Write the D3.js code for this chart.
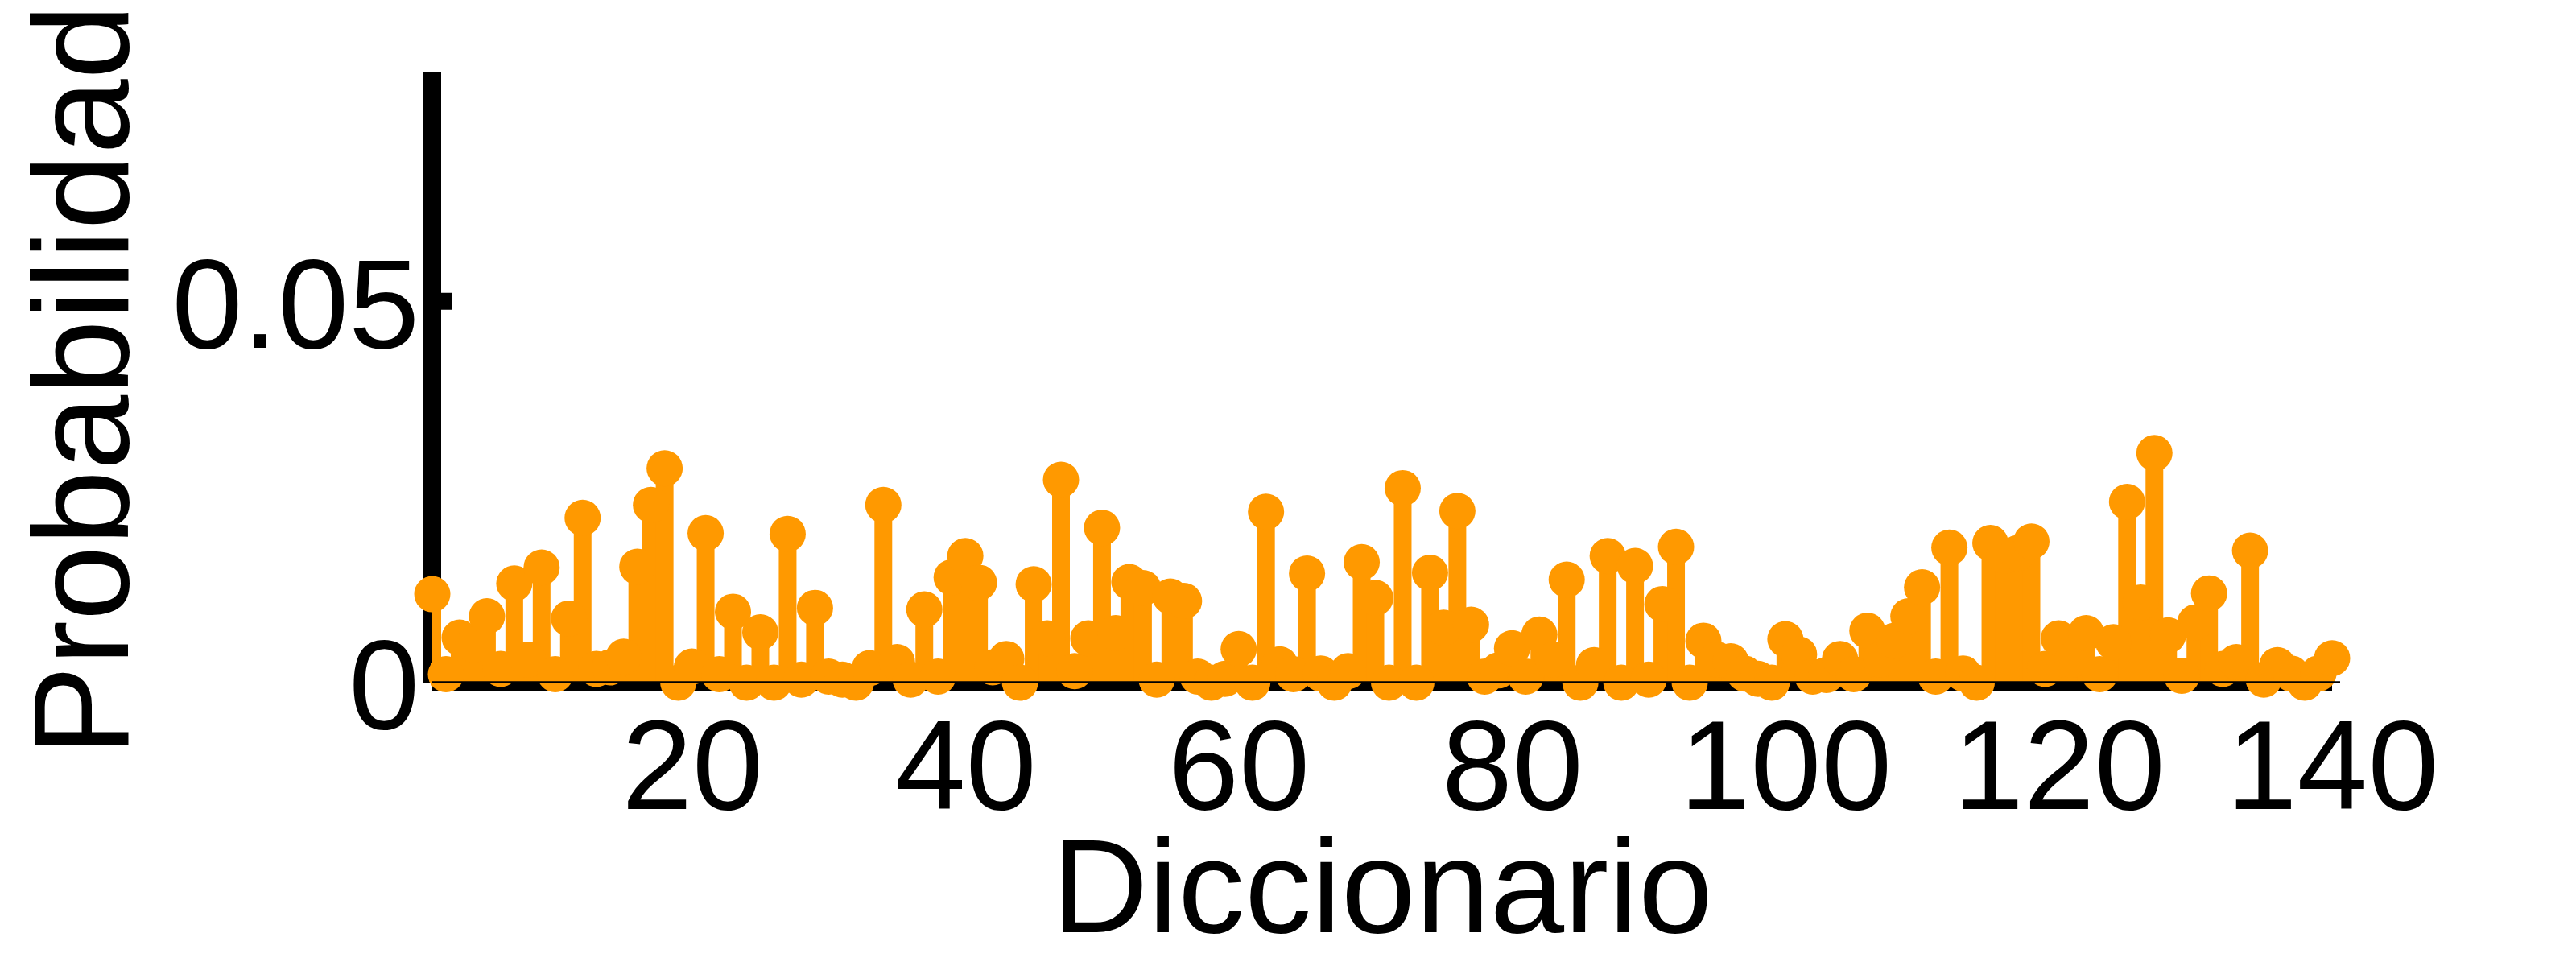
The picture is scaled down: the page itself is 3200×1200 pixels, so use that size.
<!DOCTYPE html>
<html>
<head>
<meta charset="utf-8">
<script src="https://cdn.jsdelivr.net/npm/d3@7/dist/d3.min.js"></script>
<style>
  html, body { margin: 0; padding: 0; background: #ffffff; }
  svg { display: block; }
</style>
</head>
<body>
<svg id="chart" width="3200" height="1200"></svg>
<script>
// ---- data ----
const probabilidad = [
  0.0116, 0.0011, 0.0059, 0.0050, 0.0087, 0.0018, 0.0130, 0.0030, 0.0151, 0.0011,
  0.0084, 0.0216, 0.0018, 0.0020, 0.0034, 0.0152, 0.0233, 0.0281, 0.0000, 0.0021,
  0.0196, 0.0011, 0.0093, 0.0000, 0.0066, 0.0000, 0.0195, 0.0004, 0.0098, 0.0008,
  0.0004, 0.0000, 0.0019, 0.0233, 0.0027, 0.0004, 0.0096, 0.0008, 0.0138, 0.0166,
  0.0131, 0.0020, 0.0031, 0.0000, 0.0129, 0.0058, 0.0266, 0.0015, 0.0058, 0.0203,
  0.0065, 0.0132, 0.0124, 0.0004, 0.0113, 0.0107, 0.0008, 0.0000, 0.0005, 0.0044,
  0.0000, 0.0224, 0.0024, 0.0011, 0.0143, 0.0012, 0.0000, 0.0015, 0.0158, 0.0111,
  0.0000, 0.0255, 0.0000, 0.0144, 0.0072, 0.0225, 0.0076, 0.0008, 0.0016, 0.0045,
  0.0008, 0.0063, 0.0030, 0.0135, 0.0000, 0.0023, 0.0166, 0.0000, 0.0153, 0.0004,
  0.0103, 0.0178, 0.0000, 0.0055, 0.0030, 0.0028, 0.0012, 0.0005, 0.0000, 0.0057,
  0.0037, 0.0008, 0.0010, 0.0031, 0.0011, 0.0068, 0.0030, 0.0055, 0.0087, 0.0125,
  0.0008, 0.0177, 0.0012, 0.0000, 0.0183, 0.0166, 0.0170, 0.0185, 0.0018, 0.0058,
  0.0030, 0.0065, 0.0011, 0.0053, 0.0237, 0.0105, 0.0301, 0.0062, 0.0009, 0.0079,
  0.0117, 0.0018, 0.0027, 0.0173, 0.0004, 0.0023, 0.0012, 0.0000, 0.0012, 0.0032
];
const xTicks = [20, 40, 60, 80, 100, 120, 140];
const yTicks = [0, 0.05];
const xDomain = [1, 140];
const yDomain = [0, 0.08];
const xLabel = "Diccionario";
const yLabel = "Probabilidad";

// ---- setup ----
const ORANGE = "#ff9900";
const FONT = "Arial, 'Liberation Sans', Helvetica, sans-serif";
const svg = d3.select("#chart");
svg.append("rect").attr("width", 3200).attr("height", 1200).attr("fill", "#fff");

const x = d3.scaleLinear().domain(xDomain).range([537, 2897]);
const y = d3.scaleLinear().domain(yDomain).range([848, 90]);

const pts = probabilidad.map((v, i) => ({ k: i + 1, v }));

// clip for stem lines (axes box)
svg.append("defs").append("clipPath").attr("id", "box")
  .append("rect")
  .attr("x", x(xDomain[0])).attr("y", y(yDomain[1]))
  .attr("width", x(xDomain[1]) - x(xDomain[0]))
  .attr("height", y(yDomain[0]) - y(yDomain[1]));

// axis lines (drawn under the data)
svg.append("rect") // y axis
  .attr("x", x(xDomain[0]) - 11).attr("y", y(yDomain[1]))
  .attr("width", 22).attr("height", y(0) - y(yDomain[1]))
  .attr("fill", "#000");
svg.append("rect") // x axis
  .attr("x", x(xDomain[0])).attr("y", y(0))
  .attr("width", x(xDomain[1]) - x(xDomain[0])).attr("height", 10)
  .attr("fill", "#000");
// tick at 0.05
svg.append("rect")
  .attr("x", x(xDomain[0]) + 11).attr("y", y(0.05) - 10.5)
  .attr("width", 13).attr("height", 21)
  .attr("fill", "#000");

// stems
svg.append("g").attr("clip-path", "url(#box)")
  .selectAll("line").data(pts).join("line")
  .attr("x1", d => x(d.k)).attr("x2", d => x(d.k))
  .attr("y1", y(0)).attr("y2", d => y(d.v))
  .attr("stroke", ORANGE).attr("stroke-width", 22)
  .attr("stroke-linecap", "butt");

// markers
svg.append("g")
  .selectAll("circle").data(pts).join("circle")
  .attr("cx", d => x(d.k)).attr("cy", d => y(d.v))
  .attr("r", 22.5).attr("fill", ORANGE);

// baseline (black, thin)
svg.append("line")
  .attr("x1", x(xDomain[0])).attr("x2", x(xDomain[1]) + 10)
  .attr("y1", y(0) - 0.8).attr("y2", y(0) - 0.8)
  .attr("stroke", "#000").attr("stroke-width", 1.7);

// tick labels via d3 axes
const gx = svg.append("g").attr("transform", `translate(0,${y(0)})`)
  .call(d3.axisBottom(x).tickValues(xTicks).tickSize(0).tickPadding(45).tickFormat(d3.format("d")));
gx.select(".domain").remove();
gx.selectAll("text").attr("font-size", 158).attr("font-family", FONT).attr("fill", "#000");

const gy = svg.append("g").attr("transform", `translate(${x(xDomain[0])},0)`)
  .call(d3.axisLeft(y).tickValues(yTicks).tickSize(0).tickPadding(16).tickFormat(d3.format("~g")));
gy.select(".domain").remove();
gy.selectAll("text").attr("font-size", 158).attr("font-family", FONT)
  .attr("fill", "#000").attr("dy", "0.36em");

// axis titles
svg.append("text")
  .attr("x", (x(xDomain[0]) + x(xDomain[1])) / 2).attr("y", 1158)
  .attr("text-anchor", "middle")
  .attr("font-size", 166).attr("font-family", FONT).attr("fill", "#000")
  .text(xLabel);

svg.append("text")
  .attr("transform", "translate(159,472) rotate(-90)")
  .attr("text-anchor", "middle")
  .attr("font-size", 168).attr("font-family", FONT).attr("fill", "#000")
  .text(yLabel);
</script>
</body>
</html>
